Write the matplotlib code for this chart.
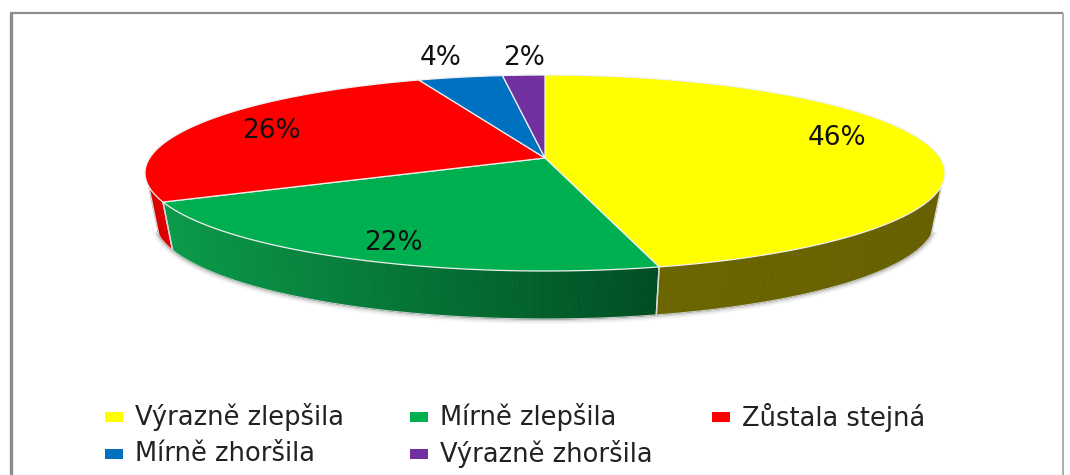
import numpy as np
import matplotlib
matplotlib.use("Agg")
import matplotlib.pyplot as plt
from matplotlib.colors import to_rgb

# data
categories = ["Výrazně zlepšila", "Mírně zlepšila", "Zůstala stejná", "Mírně zhoršila", "Výrazně zhoršila"]
values = [46, 22, 26, 4, 2]
colors = ["#ffff00", "#00b050", "#ff0000", "#0070c0", "#7030a0"]
side_left = ["#6c6600", "#0a9a4a", "#d80000", "#005a9a", "#5a2680"]
side_right = ["#666000", "#004d22", "#e00000", "#004a80", "#4a2070"]

# pie geometry in pixels
cx, cy, rx, ry = 545, 173, 400, 98
apex_shift = -0.153
depth = 48
bottom_scale = 0.975
wall_start = 186


def rim(theta):
    # ray from the (off centre) apex to the unit circle, then scaled to pixels
    dx, dy = np.sin(theta), -np.cos(theta)
    pd = apex_shift * dy
    s = -pd + np.sqrt(pd ** 2 + 1 - apex_shift ** 2)
    return cx + rx * s * dx, cy + ry * (apex_shift + s * dy)


def low(x):
    return cx + (x - cx) * bottom_scale


fig = plt.figure(figsize=(10.7, 4.75), dpi=100)
ax = fig.add_axes([0, 0, 1, 1])
ax.set_xlim(0, 1070)
ax.set_ylim(475, 0)
ax.axis("off")

# frame
ax.plot([11, 11], [475, 13], color="#8c8c8c", lw=2.4, solid_capstyle="butt")
ax.plot([10, 1063], [13, 13], color="#8c8c8c", lw=1.6, solid_capstyle="butt")
ax.plot([1063, 1063], [13, 475], color="#a0a0a0", lw=1.2, solid_capstyle="butt")

edges = np.cumsum([0] + values) / sum(values) * 2 * np.pi
apex_y = cy + ry * apex_shift

# soft shadow under the rim
t_all = np.linspace(0, 2 * np.pi, 600)
xs, ys = rim(t_all)
keep = ys >= wall_start
order = np.argsort(xs[keep])
for lw, a in [(7, 0.05), (5, 0.08), (3, 0.14)]:
    ax.plot(low(xs[keep][order]), ys[keep][order] + depth, color="#555555", lw=lw, alpha=a, zorder=1)

# side wall, only the part that faces the viewer
for i in range(len(values)):
    t = np.linspace(edges[i], edges[i + 1], 160)
    x, y = rim(t)
    keep = y >= wall_start
    if keep.sum() < 2:
        continue
    x, y = x[keep], y[keep]
    c0, c1 = np.array(to_rgb(side_left[i])), np.array(to_rgb(side_right[i]))
    xmin, xmax = x.min(), x.max()
    for j in range(len(x) - 1):
        f = ((x[j] + x[j + 1]) / 2 - xmin) / max(xmax - xmin, 1)
        ax.fill([x[j], x[j + 1], low(x[j + 1]), low(x[j])],
                [y[j], y[j + 1], y[j + 1] + depth, y[j] + depth],
                color=c0 + (c1 - c0) * f, lw=0.6, zorder=2)
    ax.plot([x[0], low(x[0])], [y[0], y[0] + depth], color="#d8d8d8", lw=1, zorder=3)
    ax.plot([x[-1], low(x[-1])], [y[-1], y[-1] + depth], color="#d8d8d8", lw=1, zorder=3)
    ax.plot(low(x), y + depth, color="#c8c8c8", lw=0.8, zorder=3)

# top of the pie
for i in range(len(values)):
    t = np.linspace(edges[i], edges[i + 1], 200)
    x, y = rim(t)
    ax.fill(np.r_[cx, x], np.r_[apex_y, y], facecolor=colors[i],
            edgecolor="#f0f0f0", lw=0.9, zorder=4)

# percent labels
label_x = [837, 393, 271, 441, 524]
label_y = [138, 243, 131, 58, 58]
for v, lx, ly in zip(values, label_x, label_y):
    ax.text(lx, ly, f"{v}%", ha="center", va="center", fontsize=19, color="#111111", zorder=5)

# legend
swatch_x = [105, 410, 712, 105, 410]
swatch_y = [417, 417, 417, 454, 454]
for name, col, sx, sy in zip(categories, colors, swatch_x, swatch_y):
    ax.fill([sx, sx + 18, sx + 18, sx], [sy - 5, sy - 5, sy + 5, sy + 5], color=col, lw=0)
    ax.text(sx + 30, sy, name, ha="left", va="center", fontsize=18.5, color="#222222")

fig.savefig("out.png", dpi=100)
